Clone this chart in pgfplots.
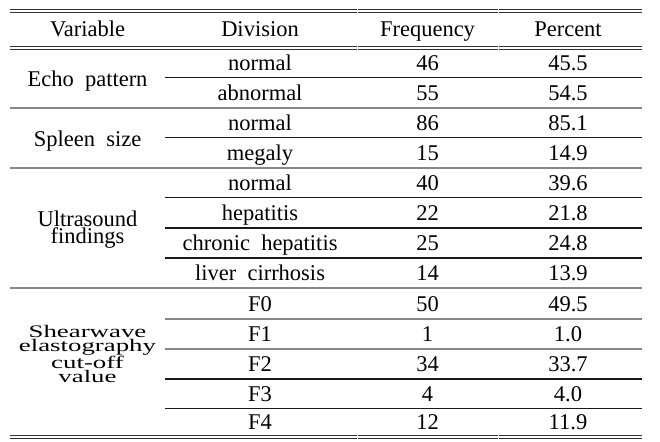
\documentclass[border=0pt]{standalone}
\usepackage{pgfplots}
\usepackage{pgfplotstable}
\usepackage{fontspec}
\pgfplotsset{compat=1.18}
\setmainfont{Liberation Serif}

\definecolor{rule}{RGB}{50,50,50}
\definecolor{dark}{RGB}{25,25,25}
\definecolor{grayline}{RGB}{135,135,135}

\newcommand\cellfont{\fontsize{22.5}{26}\selectfont\spaceskip=0.5em\relax}

% baseline of each row (px from top), division, frequency, percent
\pgfplotstableread[col sep=comma]{
y,div,freq,pct
70.5,normal,46,45.5
100,abnormal,55,54.5
130,normal,86,85.1
160,megaly,15,14.9
190,normal,40,39.6
220.5,hepatitis,22,21.8
250.5,chronic hepatitis,25,24.8
280.5,liver cirrhosis,14,13.9
311,F0,50,49.5
341,F1,1,1.0
371,F2,34,33.7
401,F3,4,4.0
429,F4,12,11.9
}\rows

\begin{document}
\begin{tikzpicture}
\begin{axis}[
    scale only axis,
    width=660pt, height=441pt,
    xmin=0, xmax=660, ymin=0, ymax=441,
    y dir=reverse,
    hide axis,
    clip=false,
    nodes near coords,
    point meta=explicit symbolic,
    nodes near coords align={center},
    every node near coord/.append style={anchor=center, inner sep=0pt,
        text height=16pt, text depth=5pt, font=\cellfont, text=black},
]
\path (axis cs:0,0) rectangle (axis cs:660,441);

% double rules
\draw[rule, line width=1.2pt] (axis cs:10,9.5) -- (axis cs:642,9.5);
\draw[rule, line width=1.2pt] (axis cs:10,12.4) -- (axis cs:642,12.4);
\draw[rule, line width=1.2pt] (axis cs:10,46.8) -- (axis cs:642,46.8);
\draw[rule, line width=1.2pt] (axis cs:10,49.8) -- (axis cs:642,49.8);
\draw[rule, line width=1.2pt] (axis cs:10,435.8) -- (axis cs:642,435.8);
\draw[rule, line width=1.2pt] (axis cs:10,438.8) -- (axis cs:642,438.8);
% small breaks at the column joins
\fill[white] (axis cs:356.5,8) rectangle (axis cs:357.5,14);
\fill[white] (axis cs:497.5,8) rectangle (axis cs:498.5,14);
\fill[white] (axis cs:356.5,45) rectangle (axis cs:357.5,51);
\fill[white] (axis cs:497.5,45) rectangle (axis cs:498.5,51);
\fill[white] (axis cs:356.5,434) rectangle (axis cs:357.5,440.5);
\fill[white] (axis cs:497.5,434) rectangle (axis cs:498.5,440.5);

% lines inside a group
\draw[dark, line width=1.2pt] (axis cs:165,77.7) -- (axis cs:642,77.7);
\draw[dark, line width=1.2pt] (axis cs:165,137.7) -- (axis cs:642,137.7);
\draw[dark, line width=1.2pt] (axis cs:165,197.7) -- (axis cs:642,197.7);
\draw[dark, line width=1.2pt] (axis cs:165,228) -- (axis cs:642,228);
\draw[dark, line width=1.2pt] (axis cs:165,258) -- (axis cs:642,258);
\draw[grayline, line width=1.8pt] (axis cs:165,318.7) -- (axis cs:642,318.7);
\draw[grayline, line width=1.8pt] (axis cs:165,348.7) -- (axis cs:642,348.7);
\draw[dark, line width=1.2pt] (axis cs:165,379) -- (axis cs:642,379);
\draw[dark, line width=1.2pt] (axis cs:165,408.3) -- (axis cs:642,408.3);
% lines between groups
\draw[grayline, line width=1.8pt] (axis cs:10,107.7) -- (axis cs:642,107.7);
\draw[grayline, line width=1.8pt] (axis cs:10,167.7) -- (axis cs:642,167.7);
\draw[grayline, line width=1.8pt] (axis cs:10,288.3) -- (axis cs:642,288.3);

% header
\node[anchor=base, font=\cellfont, inner sep=0pt] at (axis cs:87.5,37) {Variable};
\node[anchor=base, font=\cellfont, inner sep=0pt] at (axis cs:260,37) {Division};
\node[anchor=base, font=\cellfont, inner sep=0pt] at (axis cs:427.5,37) {Frequency};
\node[anchor=base, font=\cellfont, inner sep=0pt] at (axis cs:568,37) {Percent};

% variables
\node[anchor=base, font=\cellfont, inner sep=0pt] at (axis cs:87.5,87) {Echo pattern};
\node[anchor=base, font=\cellfont, inner sep=0pt] at (axis cs:87.5,146.5) {Spleen size};
\node[anchor=north, align=center, inner sep=0pt,
      font=\fontsize{22.5}{17}\selectfont] at (axis cs:87.5,210.5) {Ultrasound\\findings};
\node[anchor=north, align=center, inner sep=0pt, xscale=1.22, yscale=0.8,
      font=\fontsize{22}{17.5}\selectfont] at (axis cs:87.5,325.5)
      {Shearwave\\elastography\\cut-off\\value};

% cells
\addplot[only marks, mark=none] table[x expr=260, y expr=\thisrow{y}-5.5, meta=div] {\rows};
\addplot[only marks, mark=none] table[x expr=427.5, y expr=\thisrow{y}-5.5, meta=freq] {\rows};
\addplot[only marks, mark=none] table[x expr=568, y expr=\thisrow{y}-5.5, meta=pct] {\rows};
\end{axis}
\end{tikzpicture}
\end{document}
